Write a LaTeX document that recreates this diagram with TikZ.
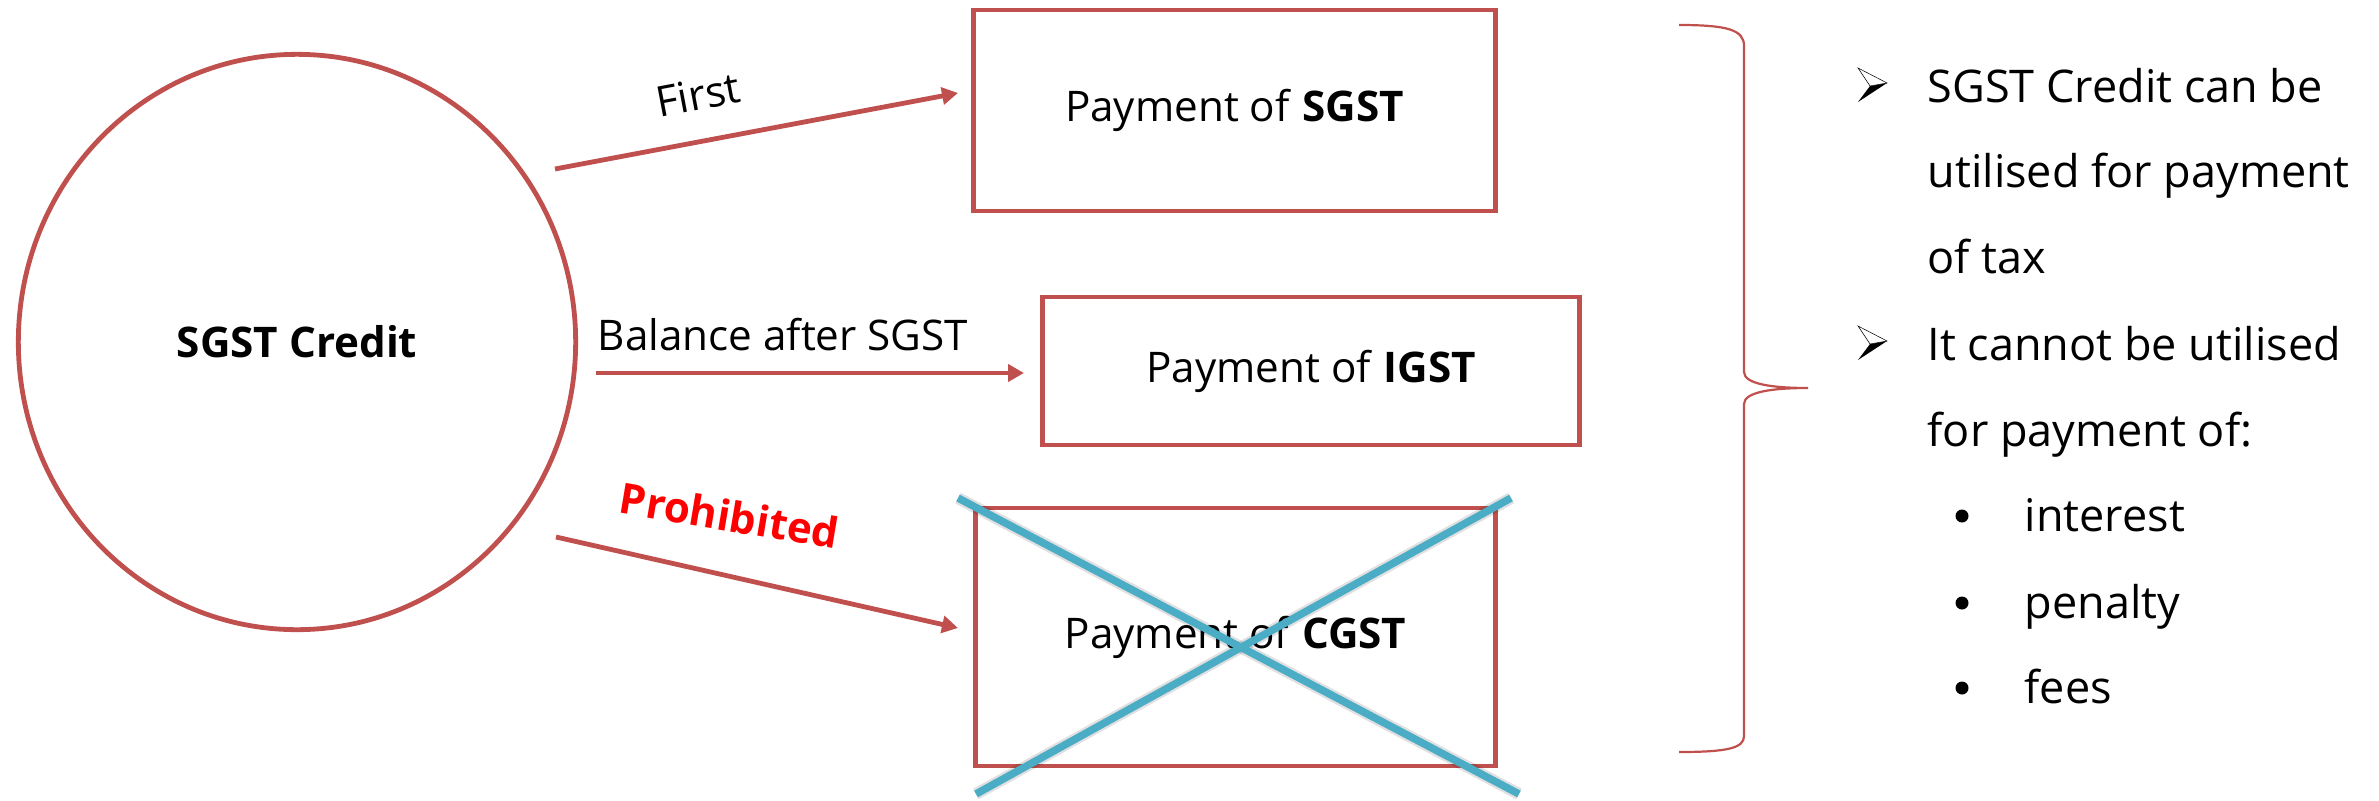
\documentclass[tikz,border=0pt]{standalone}
\usepackage{fontspec}
\setmainfont{Open Sans}
\usetikzlibrary{shapes.geometric,arrows.meta}
\definecolor{boxred}{HTML}{C0504D}
\definecolor{crossblue}{HTML}{4BACC6}
\definecolor{warnred}{HTML}{FF0000}
\begin{document}
\begin{tikzpicture}[x=0.01cm,y=-0.01cm,
  txt/.style={font=\fontsize{12}{14}\selectfont},
  notetxt/.style={font=\fontsize{12.8}{15}\selectfont},
  credit/.style={ellipse, draw=boxred, line width=0.048cm, inner sep=0pt,
    minimum width=5.57cm, minimum height=5.75cm, txt},
  paybox/.style={draw=boxred, line width=0.048cm, inner sep=0pt, txt},
  flow/.style={draw=boxred, line width=0.048cm, -{Triangle[length=0.16cm,width=0.17cm]}},
  lbl/.style={anchor=base, inner sep=0pt, txt},
  listline/.style={anchor=base west, inner sep=0pt, txt},
  noteline/.style={anchor=base west, inner sep=0pt, notetxt},
  xline/.style={draw=crossblue, line width=0.075cm},
  xshade/.style={draw=black, opacity=0.12, line width=0.12cm},
  brace/.style={draw=boxred, line width=0.022cm},
  pics/arrowbullet/.style={code={
    \fill[black] (12,-16) -- (29,-19) -- (0,0) -- cycle;
    \filldraw[fill=white, draw=black, line width=0.15pt] (0,-34) -- (29,-19) -- (12,-16) -- cycle;
  }},
]
\useasboundingbox (0,0) rectangle (2379,800);

% source of credit
\node[credit] (credit) at (297,342) {\textbf{SGST Credit}};

% payment targets
\node[paybox, minimum width=5.21cm, minimum height=2.01cm] (sgst) at (1234.5,110.5) {Payment of \textbf{SGST}};
\node[paybox, minimum width=5.36cm, minimum height=1.48cm] (igst) at (1311,371) {Payment of \textbf{IGST}};
\node[paybox, minimum width=5.19cm, minimum height=2.58cm] (cgst) at (1235.5,637) {Payment of \textbf{CGST}};

% arrow end points
\coordinate (firstFrom) at (555,169);
\coordinate (firstTo) at (958,93);
\coordinate (balFrom) at (596,373);
\coordinate (balTo) at (1024,373);
\coordinate (proFrom) at (556,537);
\coordinate (proTo) at (958,628);

\draw[flow] (firstFrom) -- (firstTo);
\draw[flow] (balFrom) -- (balTo);
\draw[flow] (proFrom) -- (proTo);

\node[lbl, rotate=10.7] (firstLbl) at (701,110) {First};
\node[listline] (balLbl) at (597,350) {Balance after SGST};
\node[lbl, rotate=-9.5, text=warnred] (proLbl) at (727,531) {\textbf{Prohibited}};

% cross over the CGST box
\coordinate (xa1) at (958,498);
\coordinate (xa2) at (1519,794);
\coordinate (xb1) at (1511,498);
\coordinate (xb2) at (976,794);
\draw[xshade, shift={(2,6)}] (xa1) -- (xa2);
\draw[xshade, shift={(2,6)}] (xb1) -- (xb2);
\draw[xline] (xa1) -- (xa2);
\draw[xline] (xb1) -- (xb2);

% right brace
\draw[brace] (1679,25) .. controls (1728,25) and (1744,30) .. (1744,46)
  -- (1744,372) .. controls (1744,384) and (1772,388) .. (1808,388)
  .. controls (1772,388) and (1744,392) .. (1744,404)
  -- (1744,736) .. controls (1744,748) and (1728,752) .. (1679,752);

% notes
\pic at (1858,102) {arrowbullet};
\pic at (1858,360) {arrowbullet};
\node[noteline] (n1) at (1927,102) {SGST Credit can be};
\node[noteline] (n2) at (1927,187) {utilised for payment};
\node[noteline] (n3) at (1927,273) {of tax};
\node[noteline] (n4) at (1927,360) {It cannot be utilised};
\node[noteline] (n5) at (1927,446) {for payment of:};
\fill (1962,516) circle (6.5);
\fill (1962,603) circle (6.5);
\fill (1962,688) circle (6.5);
\node[noteline] (n6) at (2024,531) {interest};
\node[noteline] (n7) at (2024,618) {penalty};
\node[noteline] (n8) at (2024,703) {fees};
\end{tikzpicture}
\end{document}
